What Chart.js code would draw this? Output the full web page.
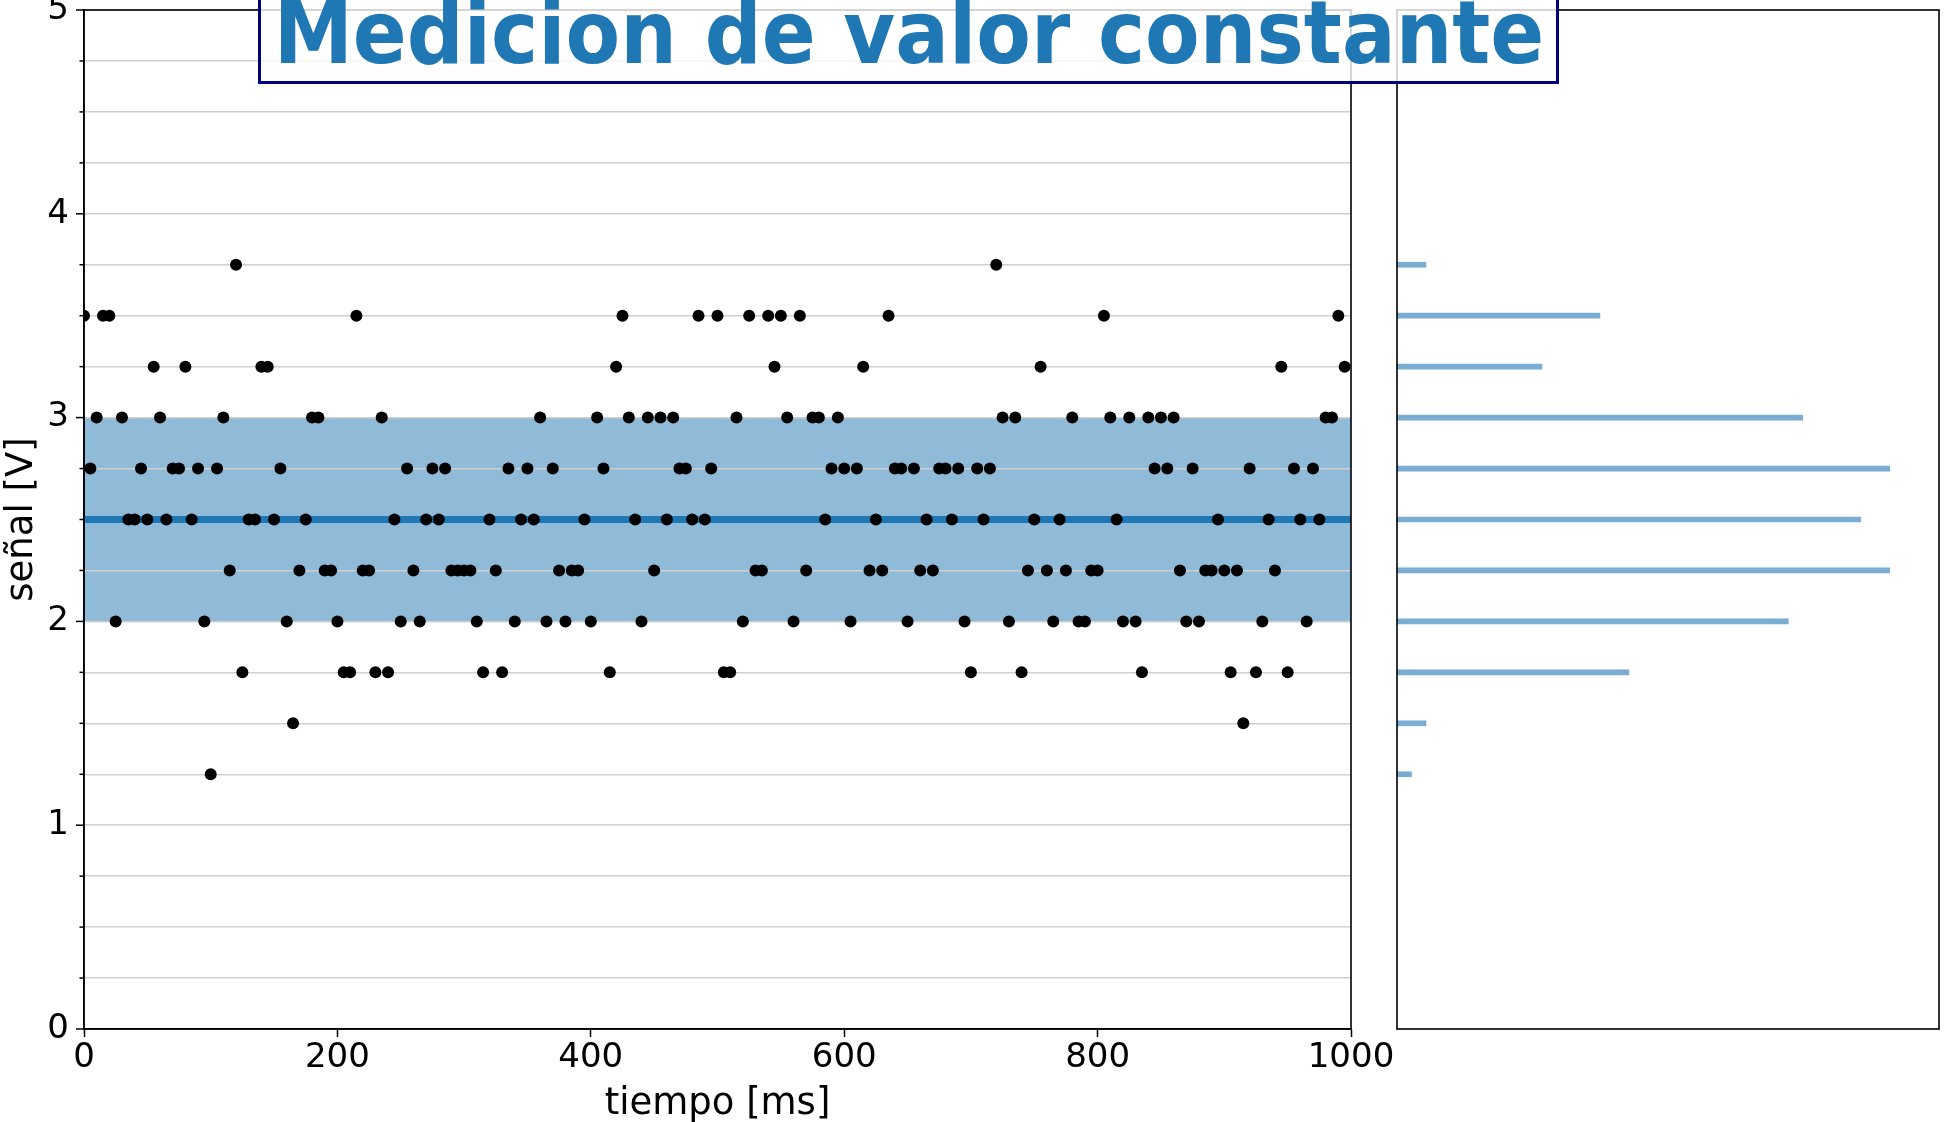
<!DOCTYPE html>
<html>
<head>
<meta charset="utf-8">
<script src="https://cdn.jsdelivr.net/npm/chart.js@4.4.0/dist/chart.umd.min.js"></script>
<style>
  html, body { margin: 0; padding: 0; background: #fff; overflow: hidden; }
  #wrap { position: relative; width: 1945px; height: 1122px; overflow: hidden; }
  #wrap canvas { position: absolute; left: 0; }
  #main { top: -40px; }
  #hist { top: 0; }
  #titleBox {
    position: absolute; left: 258px; top: -60px; width: 1301px; height: 144px;
    box-sizing: border-box; border: 3px solid #000080;
    background: rgba(255, 255, 255, 0.8); overflow: hidden; z-index: 5;
  }
  #titleText {
    position: absolute; left: 50%; top: 45.5px; white-space: nowrap;
    font-family: 'DejaVu Sans'; font-weight: bold; font-size: 88px; line-height: 88px;
    color: #1f77b4; transform-origin: center top;
  }
</style>
</head>
<body>
<div id="wrap">
  <canvas id="main" width="1945" height="1162"></canvas>
  <canvas id="hist" width="1945" height="1122"></canvas>
  <div id="titleBox"><span id="titleText">Medicion de valor constante</span></div>
</div>
<script>
// sample instants (ms)
const sampleTimesMs = [
  0, 5, 10, 15, 20, 25, 30, 35, 40, 45, 50, 55, 60, 65, 70, 75, 80, 85, 90, 95,
  100, 105, 110, 115, 120, 125, 130, 135, 140, 145, 150, 155, 160, 165, 170, 175, 180, 185, 190, 195,
  200, 205, 210, 215, 220, 225, 230, 235, 240, 245, 250, 255, 260, 265, 270, 275, 280, 285, 290, 295,
  300, 305, 310, 315, 320, 325, 330, 335, 340, 345, 350, 355, 360, 365, 370, 375, 380, 385, 390, 395,
  400, 405, 410, 415, 420, 425, 430, 435, 440, 445, 450, 455, 460, 465, 470, 475, 480, 485, 490, 495,
  500, 505, 510, 515, 520, 525, 530, 535, 540, 545, 550, 555, 560, 565, 570, 575, 580, 585, 590, 595,
  600, 605, 610, 615, 620, 625, 630, 635, 640, 645, 650, 655, 660, 665, 670, 675, 680, 685, 690, 695,
  700, 705, 710, 715, 720, 725, 730, 735, 740, 745, 750, 755, 760, 765, 770, 775, 780, 785, 790, 795,
  800, 805, 810, 815, 820, 825, 830, 835, 840, 845, 850, 855, 860, 865, 870, 875, 880, 885, 890, 895,
  900, 905, 910, 915, 920, 925, 930, 935, 940, 945, 950, 955, 960, 965, 970, 975, 980, 985, 990, 995
];

// measured signal (V), quantised in 0.25 V steps
const signalV = [
  3.5, 2.75, 3.0, 3.5, 3.5, 2.0, 3.0, 2.5, 2.5, 2.75, 2.5, 3.25, 3.0, 2.5, 2.75, 2.75, 3.25, 2.5, 2.75, 2.0,
  1.25, 2.75, 3.0, 2.25, 3.75, 1.75, 2.5, 2.5, 3.25, 3.25, 2.5, 2.75, 2.0, 1.5, 2.25, 2.5, 3.0, 3.0, 2.25, 2.25,
  2.0, 1.75, 1.75, 3.5, 2.25, 2.25, 1.75, 3.0, 1.75, 2.5, 2.0, 2.75, 2.25, 2.0, 2.5, 2.75, 2.5, 2.75, 2.25, 2.25,
  2.25, 2.25, 2.0, 1.75, 2.5, 2.25, 1.75, 2.75, 2.0, 2.5, 2.75, 2.5, 3.0, 2.0, 2.75, 2.25, 2.0, 2.25, 2.25, 2.5,
  2.0, 3.0, 2.75, 1.75, 3.25, 3.5, 3.0, 2.5, 2.0, 3.0, 2.25, 3.0, 2.5, 3.0, 2.75, 2.75, 2.5, 3.5, 2.5, 2.75,
  3.5, 1.75, 1.75, 3.0, 2.0, 3.5, 2.25, 2.25, 3.5, 3.25, 3.5, 3.0, 2.0, 3.5, 2.25, 3.0, 3.0, 2.5, 2.75, 3.0,
  2.75, 2.0, 2.75, 3.25, 2.25, 2.5, 2.25, 3.5, 2.75, 2.75, 2.0, 2.75, 2.25, 2.5, 2.25, 2.75, 2.75, 2.5, 2.75, 2.0,
  1.75, 2.75, 2.5, 2.75, 3.75, 3.0, 2.0, 3.0, 1.75, 2.25, 2.5, 3.25, 2.25, 2.0, 2.5, 2.25, 3.0, 2.0, 2.0, 2.25,
  2.25, 3.5, 3.0, 2.5, 2.0, 3.0, 2.0, 1.75, 3.0, 2.75, 3.0, 2.75, 3.0, 2.25, 2.0, 2.75, 2.0, 2.25, 2.25, 2.5,
  2.25, 1.75, 2.25, 1.5, 2.75, 1.75, 2.0, 2.5, 2.25, 3.25, 1.75, 2.75, 2.5, 2.0, 2.75, 2.5, 3.0, 3.0, 3.5, 3.25
];

// expected value and its tolerance band (V)
const nominalV = [2.5];
const toleranceBandV = [2.0, 3.0];

// axis ranges and labelled ticks
const timeRangeMs = [0, 1000];
const voltRangeV = [0, 5];
const xTickLabelsMs = [0, 200, 400, 600, 800, 1000];
const yTickLabelsV = [0, 1, 2, 3, 4, 5];
const yGridStepV = 0.25;

const FONT = 'DejaVu Sans';
Chart.defaults.font.family = FONT;

// plot-area placement inside each canvas (the main canvas sits 40 px above the page top)
const MAIN_CANVAS = { width: 1945, height: 1162 };
const MAIN_AREA = { left: 84, right: 1351, top: 50, bottom: 1069 };
const HIST_CANVAS = { width: 1945, height: 1122 };
const HIST_AREA = { left: 1397, right: 1939, top: 10, bottom: 1029 };

// shaded tolerance band, painted under the grid
const bandPlugin = {
  id: 'toleranceBand',
  beforeDraw(chart) {
    const { ctx, scales: { x, y } } = chart;
    const x0 = x.getPixelForValue(timeRangeMs[0]);
    const x1 = x.getPixelForValue(timeRangeMs[1]);
    const yTop = y.getPixelForValue(toleranceBandV[1]);
    const yBot = y.getPixelForValue(toleranceBandV[0]);
    ctx.save();
    ctx.fillStyle = 'rgba(31, 119, 180, 0.5)';
    ctx.fillRect(x0, yTop, x1 - x0, yBot - yTop);
    ctx.restore();
  }
};

// frame around a plot area
const framePlugin = {
  id: 'frame',
  afterDraw(chart) {
    const { ctx, chartArea: a } = chart;
    ctx.save();
    ctx.strokeStyle = '#000';
    ctx.lineWidth = 1.6;
    ctx.strokeRect(a.left, a.top, a.right - a.left, a.bottom - a.top);
    ctx.restore();
  }
};

// major / minor tick marks on the voltage axis
const yTickMarksPlugin = {
  id: 'yTickMarks',
  afterDraw(chart) {
    const { ctx, chartArea: a, scales: { y } } = chart;
    ctx.save();
    ctx.strokeStyle = '#000';
    ctx.lineWidth = 1.5;
    y.ticks.forEach(t => {
      const py = y.getPixelForValue(t.value);
      const len = yTickLabelsV.includes(t.value) ? 8 : 4.5;
      ctx.beginPath();
      ctx.moveTo(a.left, py);
      ctx.lineTo(a.left - len, py);
      ctx.stroke();
    });
    ctx.restore();
  }
};

// nudge layout padding so the plot area lands exactly where wanted
function pinArea(chart, want) {
  for (let i = 0; i < 3; i++) {
    const a = chart.chartArea;
    const p = chart.options.layout.padding;
    const dT = want.top - a.top, dB = a.bottom - want.bottom;
    const dL = want.left - a.left, dR = a.right - want.right;
    if (Math.max(Math.abs(dT), Math.abs(dB), Math.abs(dL), Math.abs(dR)) < 0.5) break;
    p.top += dT; p.bottom += dB; p.left += dL; p.right += dR;
    chart.update('none');
  }
}

const points = sampleTimesMs.map((t, i) => ({ x: t, y: signalV[i] }));
const nominalLine = timeRangeMs.map(t => ({ x: t, y: nominalV[0] }));

const mainChart = new Chart(document.getElementById('main'), {
  type: 'scatter',
  data: {
    datasets: [
      {
        label: 'señal',
        data: points,
        backgroundColor: '#000',
        borderWidth: 0,
        pointRadius: 6,
        pointHoverRadius: 6,
        clip: 0,
        order: 0
      },
      {
        type: 'line',
        label: 'valor nominal',
        data: nominalLine,
        borderColor: '#1f77b4',
        borderWidth: 7,
        pointRadius: 0,
        fill: false,
        order: 1
      }
    ]
  },
  options: {
    responsive: false,
    animation: false,
    events: [],
    layout: {
      autoPadding: false,
      padding: { left: 0, right: MAIN_CANVAS.width - MAIN_AREA.right, top: MAIN_AREA.top, bottom: 0 }
    },
    plugins: { legend: { display: false }, tooltip: { enabled: false } },
    scales: {
      x: {
        type: 'linear',
        min: timeRangeMs[0],
        max: timeRangeMs[1],
        afterBuildTicks: s => { s.ticks = xTickLabelsMs.map(v => ({ value: v })); },
        afterFit: s => { s.height = MAIN_CANVAS.height - MAIN_AREA.bottom; },
        ticks: {
          autoSkip: false, maxRotation: 0, padding: 1, color: '#000',
          font: { family: FONT, size: 34 },
          callback: v => String(v)
        },
        grid: { drawOnChartArea: false, drawTicks: true, tickLength: 8, tickColor: '#000', tickWidth: 1.5 },
        border: { color: '#000', width: 1.6 },
        title: {
          display: true, text: 'tiempo [ms]', color: '#000',
          font: { family: FONT, size: 37, lineHeight: 0.96 }, padding: { top: 0, bottom: 0 }
        }
      },
      y: {
        type: 'linear',
        min: voltRangeV[0],
        max: voltRangeV[1],
        afterFit: s => { s.width = MAIN_AREA.left; },
        ticks: {
          stepSize: yGridStepV, autoSkip: false, padding: 15, color: '#000',
          font: { family: FONT, size: 34, lineHeight: 0.5 },
          callback: v => (yTickLabelsV.includes(v) ? String(v) : '')
        },
        grid: { color: '#d0d0d0', lineWidth: 1.5, drawTicks: false },
        border: { color: '#000', width: 1.6 },
        title: {
          display: true, text: 'señal [V]', color: '#000',
          font: { family: FONT, size: 37 }, padding: { top: 0, bottom: 0 }
        }
      }
    }
  },
  plugins: [bandPlugin, framePlugin, yTickMarksPlugin]
});
pinArea(mainChart, MAIN_AREA);

// distribution of the readings per level
const levelsV = [...new Set(signalV)].sort((a, b) => a - b);
const countsPerLevel = levelsV.map(l => signalV.filter(v => v === l).length);
const histMax = Math.max(...countsPerLevel) * 1.1;

const histChart = new Chart(document.getElementById('hist'), {
  type: 'bar',
  data: {
    datasets: [{
      label: 'frecuencia',
      data: levelsV.map((l, i) => ({ x: countsPerLevel[i], y: l })),
      backgroundColor: 'rgba(31, 119, 180, 0.6)',
      borderWidth: 0,
      barThickness: 5
    }]
  },
  options: {
    indexAxis: 'y',
    responsive: false,
    animation: false,
    events: [],
    layout: {
      autoPadding: false,
      padding: {
        left: HIST_AREA.left, right: HIST_CANVAS.width - HIST_AREA.right,
        top: HIST_AREA.top, bottom: HIST_CANVAS.height - HIST_AREA.bottom
      }
    },
    plugins: { legend: { display: false }, tooltip: { enabled: false } },
    scales: {
      x: { type: 'linear', min: 0, max: histMax, display: false, offset: false },
      y: { type: 'linear', min: voltRangeV[0], max: voltRangeV[1], display: false, offset: false }
    }
  },
  plugins: [framePlugin]
});
pinArea(histChart, HIST_AREA);

// squeeze the heading to its box width
const titleEl = document.getElementById('titleText');
const titleWidth = 1271;
const sx = titleWidth / titleEl.offsetWidth;
titleEl.style.transform = 'translateX(-50%) scaleX(' + sx + ')';
</script>
</body>
</html>
